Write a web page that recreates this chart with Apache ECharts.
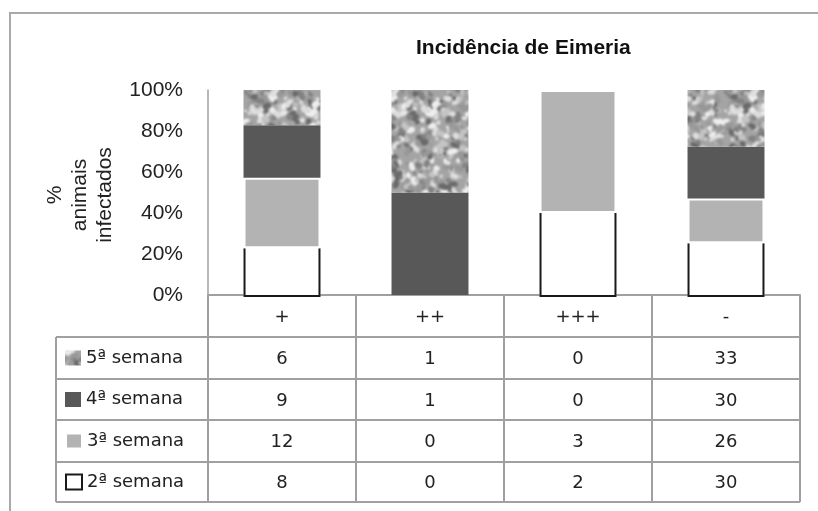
<!DOCTYPE html>
<html><head><meta charset="utf-8">
<script src="https://cdn.jsdelivr.net/npm/echarts@6/dist/echarts.min.js"></script>
<style>html,body{margin:0;padding:0;background:#fff}#c{width:818px;height:511px}</style>
</head><body><div id="c"></div>
<script>
// ---- data ----
const categories = ['+', '++', '+++', '-'];
const seriesNames = ['2ª semana', '3ª semana', '4ª semana', '5ª semana'];
const week2 = [8, 0, 2, 30];
const week3 = [12, 0, 3, 26];
const week4 = [9, 1, 0, 30];
const week5 = [6, 1, 0, 33];
const yTickValues = [0, 20, 40, 60, 80, 100];
const titleText = 'Incidência de Eimeria';
const yAxisTitle = '%\nanimais\ninfectados';

// ---- derived ----
const rawSeries = [week2, week3, week4, week5];
const totals = categories.map((c, i) => rawSeries.reduce((s, arr) => s + arr[i], 0));
const pct = rawSeries.map(arr => arr.map((v, i) => v === 0 ? '-' : v / totals[i] * 100));

// ---- seamless texture for 5ª semana ----
function makeTexture() {
  const S = 120;
  const raw = document.createElement('canvas');
  raw.width = S; raw.height = S;
  const g = raw.getContext('2d');
  g.fillStyle = '#a4a4a4';
  g.fillRect(0, 0, S, S);
  const h = (n) => { const x = Math.sin(n * 12.9898 + 78.233) * 43758.5453; return x - Math.floor(x); };
  const cols = ['#dedede', '#6a6a6a', '#c4c4c4', '#828282', '#eeeeee', '#989898'];
  for (let i = 0; i < 520; i++) {
    const x = h(i) * S, y = h(i + 1000) * S, r = 1.0 + h(i + 2000) * 2.4;
    g.fillStyle = cols[i % cols.length];
    for (let dx = -S; dx <= S; dx += S) for (let dy = -S; dy <= S; dy += S) {
      g.beginPath(); g.ellipse(x + dx, y + dy, r * (1 + h(i + 3000)), r, h(i + 4000) * Math.PI, 0, Math.PI * 2); g.fill();
    }
  }
  const big = document.createElement('canvas');
  big.width = 3 * S; big.height = 3 * S;
  const b = big.getContext('2d');
  for (let dx = 0; dx < 3; dx++) for (let dy = 0; dy < 3; dy++) b.drawImage(raw, dx * S, dy * S);
  const out = document.createElement('canvas');
  out.width = S; out.height = S;
  const o = out.getContext('2d');
  o.filter = 'blur(0.9px)';
  o.drawImage(big, -S, -S);
  return out;
}
const texture = makeTexture();

// ---- layout constants ----
const G = { left: 208, top: 90, right: 18, bottom: 216 }; // plot: x 208..800, y 90..295
const axisY = 511 - G.bottom;           // 295
const rowLines = [337, 379, 420, 462, 502];
const tableLeft = 56, tableRight = 800;
const rowCenters = [358, 399.5, 441, 482];
const tableFont = '"DejaVu Sans", sans-serif';
const tableSize = 18;
const barRatio = 0.52;

const styles = [
  { color: '#ffffff', borderColor: '#1a1a1a', borderWidth: 2 },
  { color: '#b3b3b3', borderColor: '#ffffff', borderWidth: 2 },
  { color: '#585858', borderWidth: 0 },
  { color: { image: texture, repeat: 'repeat' }, borderWidth: 0 }
];

// table value axes (one per row, top row = 5ª semana)
const rowOrder = [3, 2, 1, 0];
const valueAxes = rowOrder.map((si, r) => ({
  type: 'category', gridIndex: 0, position: 'bottom',
  data: rawSeries[si].map(String),
  offset: rowCenters[r] - axisY + 1.5,
  axisLine: { show: false }, axisTick: { show: false }, splitLine: { show: false },
  axisLabel: { margin: 0, verticalAlign: 'middle', fontFamily: tableFont, fontSize: tableSize, color: '#222' }
}));

// legends: one per table row
const legends = rowOrder.map((si, r) => ({
  orient: 'vertical', left: 65, top: rowCenters[r] - 9, padding: 0,
  itemWidth: 16, itemHeight: 15, icon: 'rect', selectedMode: false,
  data: [seriesNames[si]],
  textStyle: { fontFamily: tableFont, fontSize: tableSize, color: '#222', lineHeight: 18 }
}));

const graphics = [
  { type: 'rect', shape: { x: 10, y: 13, width: 830, height: 520 }, style: { fill: 'none', stroke: '#a9a9a9', lineWidth: 2 }, z: 0 },
  { type: 'text', x: 80, y: 195, rotation: Math.PI / 2,
    style: { text: yAxisTitle, x: 0, y: 0, align: 'center', verticalAlign: 'middle', font: '21px "Liberation Sans", Arial, sans-serif', fill: '#222', lineHeight: 25 } },
  { type: 'line', shape: { x1: tableLeft, y1: rowLines[0], x2: tableLeft, y2: rowLines[rowLines.length - 1] }, style: { stroke: '#a0a0a0', lineWidth: 2 } }
];
rowLines.forEach(y => graphics.push({ type: 'line', shape: { x1: tableLeft, y1: y, x2: tableRight, y2: y }, style: { stroke: '#a0a0a0', lineWidth: 2 } }));

// 2ª semana outline (open top) drawn through the axes
function renderOpenBar(params, api) {
  const ci = api.value(0), v = api.value(1);
  const top = api.coord([ci, v]);
  const bot = api.coord([ci, 0]);
  const w = api.size([1, 0])[0] * barRatio;
  const l = top[0] - w / 2, r = top[0] + w / 2;
  return { type: 'group', children: [
    { type: 'rect', shape: { x: l, y: top[1], width: w, height: bot[1] - top[1] }, style: { fill: '#fff' } },
    { type: 'polyline', shape: { points: [[l + 1, top[1]], [l + 1, bot[1] + 1], [r - 1, bot[1] + 1], [r - 1, top[1]]] },
      style: { fill: null, stroke: '#1a1a1a', lineWidth: 2 } }
  ]};
}

const barSeries = [
  { name: '2ª base', type: 'bar', stack: 'total', barWidth: (barRatio * 100) + '%', data: pct[0],
    itemStyle: { color: 'rgba(0,0,0,0)' }, silent: true, z: 1 },
  { name: seriesNames[0], type: 'custom', renderItem: renderOpenBar, z: 2,
    itemStyle: styles[0],
    data: pct[0].map((v, i) => v === '-' ? null : [i, v]).filter(d => d) }
].concat([1, 2, 3].map(i => ({
  name: seriesNames[i], type: 'bar', stack: 'total', barWidth: (barRatio * 100) + '%',
  data: pct[i], itemStyle: styles[i], z: 3
})));

const chart = echarts.init(document.getElementById('c'), null, { renderer: 'canvas' });
chart.setOption({
  animation: false,
  backgroundColor: '#fff',
  title: {
    text: titleText, left: 411, top: 33,
    textStyle: { fontFamily: '"Liberation Sans", Arial, sans-serif', fontWeight: 'bold', fontSize: 21, color: '#111' }
  },
  legend: legends,
  grid: { left: G.left, top: G.top, right: G.right, bottom: G.bottom, containLabel: false, outerBoundsMode: 'none' },
  xAxis: [{
    type: 'category', data: categories, position: 'bottom',
    axisLine: { lineStyle: { color: '#a0a0a0', width: 2 } },
    axisTick: { show: true, length: rowLines[rowLines.length - 1] - axisY, lineStyle: { color: '#a0a0a0', width: 2 } },
    axisLabel: { margin: 22, verticalAlign: 'middle', fontFamily: tableFont, fontSize: tableSize, color: '#222' }
  }].concat(valueAxes),
  yAxis: {
    type: 'value', min: yTickValues[0], max: yTickValues[yTickValues.length - 1], interval: 20,
    axisLine: { show: true, lineStyle: { color: '#a0a0a0', width: 1.5 } },
    axisTick: { show: false }, splitLine: { show: false },
    axisLabel: { formatter: '{value}%', margin: 25, fontFamily: '"Liberation Sans", Arial, sans-serif', fontSize: 21, color: '#222' }
  },
  series: barSeries,
  graphic: graphics
});
</script></body></html>
